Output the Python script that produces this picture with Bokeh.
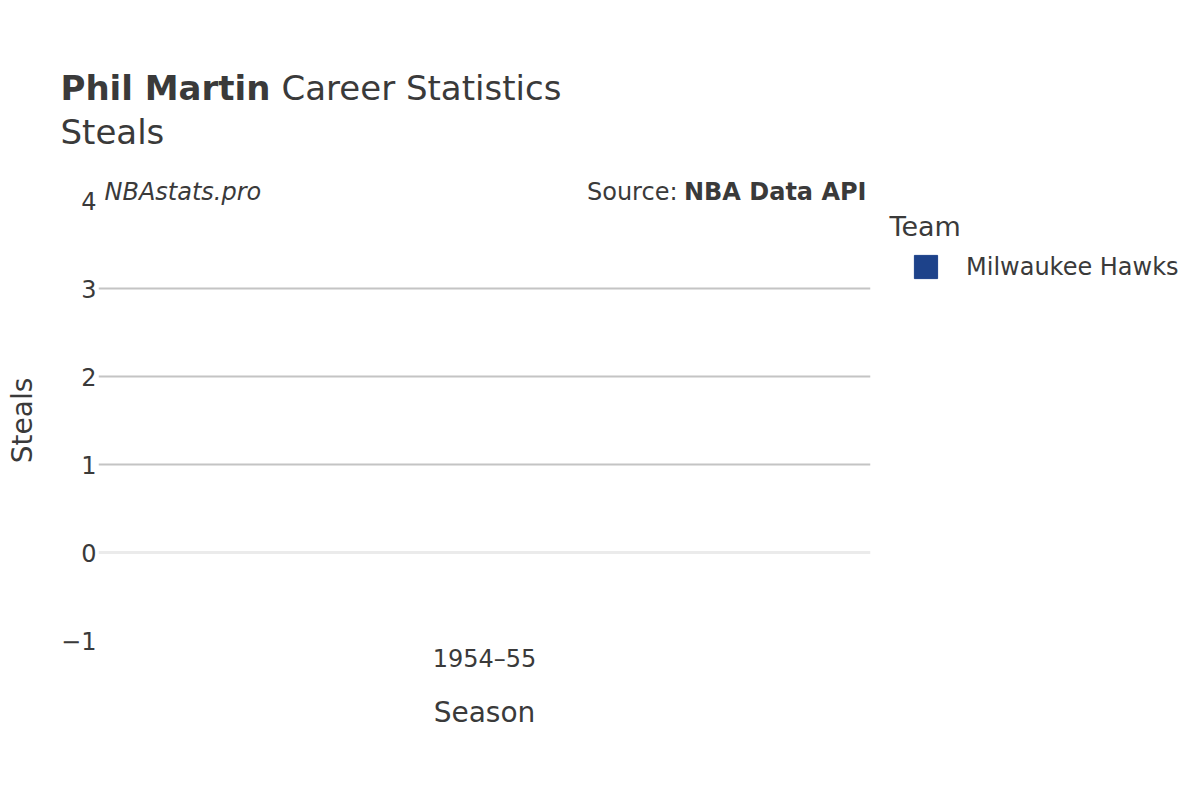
import numpy as np
from bokeh.plotting import figure
from bokeh.models import (FactorRange, Range1d, Label, Legend, LegendItem,
                          FixedTicker, Span, ColumnDataSource)
from bokeh.embed import file_html
from bokeh.resources import INLINE

# ---- data ----
player = "Phil Martin"
title_rest = "Career Statistics"
stat_name = "Steals"
seasons = ["1954–55"]
teams = ["Milwaukee Hawks"]
steals = [float("nan")]          # no steals recorded for this season
team_colors = ["#1d428a"]
y_ticks = [-1, 0, 1, 2, 3, 4]
y_tick_text = {-1: "−1"}
grid_values = [1, 2, 3]
zero_value = 0
watermark = "NBAstats.pro"
source_label = "Source:"
source_name = "NBA Data API"
legend_title = "Team"
x_title = "Season"

FONT = "DejaVu Sans"
TXT = "#3a3a3a"
W, H = 1200, 800

# ---------------- main chart ----------------
p = figure(width=W, height=H,
           x_range=FactorRange(factors=seasons), y_range=Range1d(-1, 4),
           output_backend="svg", toolbar_location=None,
           min_border_left=98, min_border_right=330,
           min_border_top=200, min_border_bottom=160,
           outline_line_color=None)

src = ColumnDataSource(dict(season=seasons, steals=steals, color=team_colors))
p.vbar(x="season", top="steals", width=0.8, color="color", source=src)

for ax in (p.xaxis, p.yaxis):
    ax.axis_line_color = None
    ax.major_tick_line_color = None
    ax.minor_tick_line_color = None
    ax.major_tick_out = 0
    ax.major_tick_in = 0
    ax.major_label_text_font = FONT
    ax.major_label_text_font_size = "24px"
    ax.major_label_text_color = TXT
    ax.axis_label_text_font = FONT
    ax.axis_label_text_font_size = "28px"
    ax.axis_label_text_font_style = "normal"
    ax.axis_label_text_color = TXT

p.yaxis.ticker = FixedTicker(ticks=y_ticks)
p.yaxis.major_label_overrides = y_tick_text
p.yaxis.major_label_standoff = 2
p.yaxis.axis_label = stat_name
p.yaxis.axis_label_standoff = 19

p.xaxis.major_label_standoff = 4
p.xaxis.axis_label = x_title
p.xaxis.axis_label_standoff = 20

p.xgrid.grid_line_color = None
p.ygrid.ticker = FixedTicker(ticks=grid_values)
p.ygrid.grid_line_color = "#c4c4c4"
p.ygrid.grid_line_width = 2
p.add_layout(Span(location=zero_value, dimension="width",
                  line_color="#ebebeb", line_width=3))

# ---------------- text overlay (same size, transparent, stacked on top) ----------------
q = figure(width=W, height=H, title=None,
           x_range=Range1d(0, W), y_range=Range1d(H, 0),
           x_axis_type=None, y_axis_type=None,
           output_backend="svg", toolbar_location=None, min_border=0,
           outline_line_color=None,
           background_fill_color=None, border_fill_color=None,
           styles={"position": "absolute", "top": "0px", "left": "0px"})

def lab(x, y, text, size, style="normal", align="left"):
    q.add_layout(Label(x=x, y=y, text=text,
                       text_font=FONT, text_font_size=size, text_font_style=style,
                       text_color=TXT, text_align=align, text_baseline="alphabetic"))

lab(60, 87, player, "34px", "bold")
lab(281, 87, title_rest, "34px")
lab(60, 131, stat_name, "34px")
lab(104, 191, watermark, "24px", "italic")
lab(866, 191, source_name, "24px", "bold", align="right")
lab(677, 191, source_label, "24px", align="right")
lab(889, 226, legend_title, "27px")

lsrc = ColumnDataSource(dict(x=[float("nan")], top=steals, team=teams, color=team_colors))
lr = q.vbar(x="x", top="top", width=1, color="color", source=lsrc)

legend = Legend(items=[LegendItem(label=teams[0], renderers=[lr])],
                location=(911, 519), orientation="vertical",
                padding=0, margin=0, spacing=0,
                border_line_color=None, background_fill_alpha=0,
                glyph_width=29, glyph_height=29, label_height=29,
                label_standoff=26,
                label_text_font=FONT, label_text_font_size="24px",
                label_text_color=TXT)
q.add_layout(legend)

open("out.html", "w").write(file_html([p, q], INLINE))
